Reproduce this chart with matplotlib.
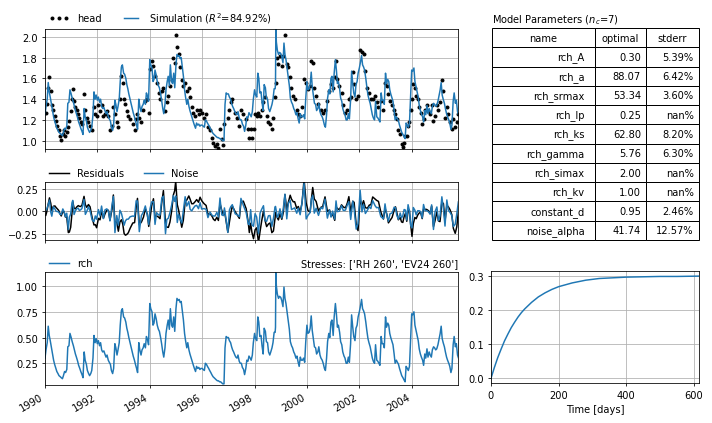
import numpy as np
import pandas as pd
import matplotlib
matplotlib.use("Agg")
import matplotlib.pyplot as plt
import matplotlib.dates as mdates

# ----------------------------
# Data
# ----------------------------
# recharge contribution (rch), sampled on the 1st and 15th of each month
rch_values = [
    0.30, 0.38, 0.45, 0.61, 0.52, 0.47, 0.40, 0.34, 0.28, 0.24, 0.20, 0.17,  # 1990
    0.15, 0.13, 0.12, 0.11, 0.10, 0.13, 0.17, 0.16, 0.19, 0.41, 0.42, 0.54,
    0.50, 0.46, 0.42, 0.38, 0.34, 0.31, 0.27, 0.23, 0.20, 0.17, 0.14, 0.11,  # 1991
    0.36, 0.28, 0.24, 0.18, 0.15, 0.13, 0.15, 0.18, 0.30, 0.52, 0.45, 0.49,
    0.44, 0.47, 0.42, 0.45, 0.38, 0.36, 0.37, 0.34, 0.31, 0.33, 0.28, 0.26,  # 1992
    0.24, 0.18, 0.15, 0.20, 0.44, 0.40, 0.33, 0.38, 0.45, 0.62, 0.76, 0.78,
    0.70, 0.69, 0.65, 0.59, 0.55, 0.50, 0.45, 0.41, 0.36, 0.32, 0.28, 0.24,  # 1993
    0.20, 0.16, 0.45, 0.38, 0.33, 0.38, 0.40, 0.44, 0.40, 0.51, 0.48, 0.43,
    0.83, 0.78, 0.75, 0.62, 0.64, 0.73, 0.68, 0.62, 0.58, 0.56, 0.50, 0.44,  # 1994
    0.36, 0.31, 0.40, 0.54, 0.62, 0.67, 0.58, 0.78, 0.62, 0.60, 0.70, 0.56,
    0.78, 0.88, 0.86, 0.87, 0.84, 0.85, 0.75, 0.67, 0.54, 0.47, 0.40, 0.45,  # 1995
    0.38, 0.34, 0.30, 0.27, 0.23, 0.20, 0.17, 0.22, 0.20, 0.21, 0.19, 0.20,
    0.20, 0.19, 0.18, 0.25, 0.24, 0.22, 0.20, 0.18, 0.16, 0.14, 0.12, 0.11,  # 1996
    0.10, 0.09, 0.08, 0.08, 0.07, 0.07, 0.06, 0.05, 0.05, 0.40, 0.51, 0.50,
    0.50, 0.47, 0.45, 0.41, 0.38, 0.36, 0.33, 0.31, 0.30, 0.33, 0.27, 0.25,  # 1997
    0.25, 0.21, 0.19, 0.14, 0.20, 0.28, 0.27, 0.32, 0.30, 0.28, 0.33, 0.45,
    0.54, 0.49, 0.47, 0.70, 0.65, 0.51, 0.52, 0.42, 0.34, 0.59, 0.56, 0.46,  # 1998
    0.45, 0.36, 0.33, 0.36, 0.40, 0.45, 0.55, 0.55, 1.00, 0.92, 0.88, 0.90,
    0.89, 0.86, 0.80, 0.99, 0.88, 0.83, 0.74, 0.67, 0.58, 0.46, 0.42, 0.40,  # 1999
    0.36, 0.34, 0.30, 0.32, 0.26, 0.22, 0.31, 0.28, 0.28, 0.30, 0.26, 0.45,
    0.62, 0.54, 0.55, 0.59, 0.71, 0.57, 0.48, 0.41, 0.40, 0.34, 0.36, 0.41,  # 2000
    0.33, 0.30, 0.28, 0.25, 0.20, 0.18, 0.30, 0.46, 0.54, 0.50, 0.65, 0.67,
    0.52, 0.70, 0.83, 0.73, 0.60, 0.62, 0.55, 0.46, 0.43, 0.36, 0.32, 0.30,  # 2001
    0.25, 0.25, 0.31, 0.26, 0.44, 0.72, 0.60, 0.51, 0.47, 0.59, 0.62, 0.70,
    0.75, 0.80, 0.87, 0.78, 0.76, 0.73, 0.65, 0.57, 0.49, 0.45, 0.41, 0.36,  # 2002
    0.30, 0.27, 0.25, 0.43, 0.28, 0.27, 0.25, 0.23, 0.51, 0.44, 0.44, 0.40,
    0.70, 0.60, 0.64, 0.62, 0.54, 0.50, 0.46, 0.43, 0.34, 0.25, 0.28, 0.26,  # 2003
    0.24, 0.20, 0.16, 0.13, 0.11, 0.09, 0.07, 0.22, 0.20, 0.18, 0.22, 0.45,
    0.73, 0.72, 0.75, 0.62, 0.57, 0.52, 0.47, 0.39, 0.34, 0.31, 0.28, 0.23,  # 2004
    0.34, 0.30, 0.39, 0.31, 0.36, 0.33, 0.31, 0.38, 0.41, 0.40, 0.38, 0.39,
    0.43, 0.48, 0.54, 0.61, 0.49, 0.45, 0.41, 0.36, 0.31, 0.28, 0.25, 0.22,  # 2005
    0.16, 0.20, 0.43, 0.51, 0.41, 0.44, 0.33, 0.30,
]
# a few extra rch samples for the sharp autumn 1998 peak
rch_extra_dates = ["1998-10-20", "1998-10-25"]
rch_extra_values = [0.60, 1.13]

constant_d = 0.95
noise_alpha = 41.74
r2 = 84.92
tmin, tmax = "1990-01-01", "2005-10-08"

# observed heads: decimal year and head
head_year = [
    1990.03, 1990.06, 1990.10, 1990.17, 1990.22, 1990.26, 1990.32, 1990.38, 1990.42, 1990.47,
    1990.52, 1990.57, 1990.62, 1990.68, 1990.73, 1990.78, 1990.83, 1990.89, 1990.93, 1990.98,
    1991.03, 1991.06, 1991.11, 1991.16, 1991.21, 1991.27, 1991.31, 1991.36, 1991.41, 1991.49,
    1991.54, 1991.59, 1991.66, 1991.72, 1991.80, 1991.87, 1991.92, 1991.97, 1992.04, 1992.10,
    1992.16, 1992.23, 1992.29, 1992.36, 1992.42, 1992.48, 1992.56, 1992.61, 1992.67, 1992.74,
    1992.80, 1992.86, 1992.92, 1992.97, 1993.02, 1993.07, 1993.12, 1993.18, 1993.25, 1993.35,
    1993.42, 1993.48, 1993.53, 1993.60, 1993.68, 1993.76, 1993.83, 1993.91, 1993.96, 1994.01,
    1994.07, 1994.14, 1994.20, 1994.26, 1994.34, 1994.39, 1994.46, 1994.52, 1994.60, 1994.65,
    1994.71, 1994.77, 1994.84, 1994.90, 1994.95, 1994.99, 1995.05, 1995.10, 1995.16, 1995.22,
    1995.28, 1995.35, 1995.41, 1995.49, 1995.54, 1995.60, 1995.66, 1995.73, 1995.79, 1995.86,
    1995.92, 1995.98, 1996.07, 1996.15, 1996.22, 1996.30, 1996.38, 1996.43, 1996.49, 1996.56,
    1996.62, 1996.68, 1996.75, 1996.81, 1996.85, 1996.98, 1997.04, 1997.09, 1997.15, 1997.26,
    1997.34, 1997.42, 1997.48, 1997.57, 1997.68, 1997.76, 1997.80, 1997.85, 1997.90, 1997.96,
    1998.02, 1998.08, 1998.15, 1998.21, 1998.27, 1998.34, 1998.40, 1998.46, 1998.53, 1998.59,
    1998.66, 1998.72, 1998.78, 1998.80, 1998.87, 1998.91, 1998.97, 1999.04, 1999.10, 1999.16,
    1999.23, 1999.29, 1999.36, 1999.41, 1999.48, 1999.53, 1999.61, 1999.67, 1999.74, 1999.81,
    1999.89, 1999.97, 2000.04, 2000.12, 2000.17, 2000.22, 2000.28, 2000.35, 2000.44, 2000.53,
    2000.60, 2000.69, 2000.78, 2000.86, 2000.92, 2000.98, 2001.06, 2001.11, 2001.16, 2001.24,
    2001.32, 2001.39, 2001.47, 2001.54, 2001.60, 2001.67, 2001.75, 2001.80, 2001.88, 2001.95,
    2002.03, 2002.10, 2002.16, 2002.23, 2002.31, 2002.38, 2002.44, 2002.51, 2002.60, 2002.66,
    2002.73, 2002.82, 2002.92, 2002.98, 2003.05, 2003.11, 2003.17, 2003.25, 2003.33, 2003.38,
    2003.43, 2003.49, 2003.56, 2003.61, 2003.66, 2003.71, 2003.76, 2003.81, 2003.86, 2003.91,
    2003.96, 2004.01, 2004.06, 2004.12, 2004.17, 2004.23, 2004.29, 2004.34, 2004.40, 2004.45,
    2004.51, 2004.57, 2004.64, 2004.70, 2004.76, 2004.83, 2004.89, 2004.96, 2005.02, 2005.08,
    2005.15, 2005.21, 2005.27, 2005.34, 2005.40, 2005.46, 2005.53, 2005.59, 2005.66, 2005.72,
    2005.78,
]
head_values = [
    1.27, 1.35, 1.51, 1.61, 1.48, 1.34, 1.30, 1.24, 1.19, 1.14,
    1.10, 1.05, 1.01, 1.06, 1.10, 1.05, 1.08, 1.13, 1.19, 1.29,
    1.40, 1.50, 1.38, 1.32, 1.30, 1.26, 1.22, 1.18, 1.16, 1.45,
    1.30, 1.22, 1.18, 1.14, 1.10, 1.32, 1.26, 1.24, 1.34, 1.29,
    1.34, 1.24, 1.26, 1.29, 1.24, 1.10, 1.14, 1.32, 1.26, 1.18,
    1.13, 1.40, 1.62, 1.56, 1.40, 1.35, 1.29, 1.24, 1.21, 1.16,
    1.10, 1.21, 1.26, 1.22, 1.18, 1.30, 1.38, 1.40, 1.27, 1.69,
    1.77, 1.72, 1.62, 1.56, 1.46, 1.40, 1.48, 1.51, 1.29, 1.37,
    1.43, 1.53, 1.58, 1.80, 1.75, 2.02, 1.90, 1.83, 1.71, 1.58,
    1.53, 1.56, 1.48, 1.51, 1.42, 1.32, 1.27, 1.24, 1.30, 1.26,
    1.30, 1.27, 1.22, 1.26, 1.13, 1.10, 1.03, 0.98, 0.95, 0.97,
    0.93, 1.11, 1.02, 0.96, 1.16, 1.22, 1.30, 1.37, 1.40, 1.27,
    1.22, 1.14, 1.30, 1.26, 1.21, 1.11, 1.03, 1.11, 1.03, 1.11,
    1.26, 1.24, 1.27, 1.24, 1.30, 1.37, 1.42, 1.24, 1.18, 1.16,
    1.11, 1.22, 1.42, 1.56, 1.80, 1.74, 1.82, 1.72, 1.82, 2.02,
    1.74, 1.71, 1.61, 1.51, 1.43, 1.40, 1.30, 1.26, 1.24, 1.32,
    1.59, 1.56, 1.50, 1.53, 1.77, 1.75, 1.51, 1.43, 1.35, 1.30,
    1.27, 1.30, 1.38, 1.48, 1.55, 1.51, 1.61, 1.77, 1.59, 1.53,
    1.46, 1.34, 1.27, 1.30, 1.40, 1.42, 1.66, 1.55, 1.40, 1.43,
    1.87, 1.85, 1.83, 1.67, 1.51, 1.46, 1.40, 1.40, 1.43, 1.37,
    1.32, 1.38, 1.30, 1.56, 1.53, 1.45, 1.38, 1.34, 1.30, 1.26,
    1.21, 1.10, 1.06, 0.97, 0.94, 0.98, 1.05, 1.05, 1.14, 1.18,
    1.30, 1.40, 1.55, 1.51, 1.43, 1.40, 1.32, 1.27, 1.16, 1.21,
    1.30, 1.34, 1.29, 1.26, 1.34, 1.19, 1.24, 1.34, 1.30, 1.37,
    1.58, 1.48, 1.22, 1.32, 1.26, 1.18, 1.11, 1.21, 1.13, 1.18,
    1.26,
]

# step response of rch
step_days = [0, 10, 20, 30, 40, 50, 60, 70, 80, 90, 100, 120, 140, 160, 180,
             200, 240, 280, 320, 360, 400, 450, 500, 550, 615]
step_values = [0.000, 0.032, 0.061, 0.086, 0.110, 0.130, 0.149, 0.165, 0.180,
               0.193, 0.204, 0.223, 0.239, 0.251, 0.261, 0.269, 0.280, 0.288,
               0.293, 0.295, 0.297, 0.298, 0.299, 0.299, 0.300]

# parameter table
param_names = ["rch_A", "rch_a", "rch_srmax", "rch_lp", "rch_ks", "rch_gamma",
               "rch_simax", "rch_kv", "constant_d", "noise_alpha"]
param_optimal = [0.30, 88.07, 53.34, 0.25, 62.80, 5.76, 2.00, 1.00, 0.95, 41.74]
param_stderr = [5.39, 6.42, 3.60, np.nan, 8.20, 6.30, np.nan, np.nan, 2.46, 12.57]

# ----------------------------
# Series
# ----------------------------
rch_dates = pd.date_range(tmin, periods=len(rch_values), freq="SMS")
rch = pd.concat([
    pd.Series(rch_values, index=rch_dates),
    pd.Series(rch_extra_values, index=pd.to_datetime(rch_extra_dates)),
]).sort_index()
sim = rch + constant_d

t0 = pd.Timestamp(tmin)
head_dates = pd.DatetimeIndex([t0 + pd.Timedelta(days=(y - 1990.0) * 365.25)
                               for y in head_year])
head = pd.Series(head_values, index=head_dates)

# residuals at observation times, noise from the exponential noise model
sim_at_obs = np.interp(head_dates.asi8, sim.index.asi8, sim.values)
res = pd.Series(head.values - sim_at_obs, index=head_dates)
dt = np.diff(head_dates.asi8) / 8.64e13
noise = pd.Series(res.values[1:] - np.exp(-dt / noise_alpha) * res.values[:-1],
                  index=head_dates[1:])

# ----------------------------
# Figure
# ----------------------------
fig = plt.figure(figsize=(10, 5.955), dpi=71.2)
ax1 = fig.add_axes([0.0632, 0.6462, 0.5801, 0.2842])
ax2 = fig.add_axes([0.0632, 0.4316, 0.5801, 0.1361], sharex=ax1)
ax3 = fig.add_axes([0.0632, 0.0896, 0.5801, 0.2665], sharex=ax1)
axt = fig.add_axes([0.691, 0.4316, 0.2907, 0.5000])
ax4 = fig.add_axes([0.6896, 0.0932, 0.2921, 0.2653])

# heads and simulation
ax1.plot(head.index, head.values, ".", color="k", label="head")
ax1.plot(sim.index, sim.values, color="C0",
         label="Simulation ($R^2$={:.2f}%)".format(r2))
ax1.set_ylim(0.92, 2.08)
ax1.legend(loc=(0, 1), ncol=2, frameon=False, numpoints=3)
ax1.grid(True)

# residuals and noise
ax2.axhline(0.0, color="0.3", linestyle="--", linewidth=1.0, zorder=0)
ax2.plot(res.index, res.values, color="k", label="Residuals")
ax2.plot(noise.index, noise.values, color="C0", label="Noise")
ax2.set_ylim(-0.317, 0.324)
ax2.set_yticks([-0.25, 0.0, 0.25])
ax2.legend(loc=(0, 1), ncol=2, frameon=False)
ax2.grid(True)

# contribution
ax3.plot(rch.index, rch.values, color="C0", label="rch")
ax3.set_ylim(0.039, 1.136)
ax3.set_yticks([0.25, 0.5, 0.75, 1.0])
ax3.legend(loc=(0, 1), frameon=False)
ax3.set_title("Stresses: ['RH 260', 'EV24 260']", loc="right", fontsize=10)
ax3.grid(True)

ax1.set_xlim(pd.Timestamp(tmin), pd.Timestamp(tmax))
ax3.xaxis.set_major_locator(mdates.YearLocator(2))
ax3.xaxis.set_major_formatter(mdates.DateFormatter("%Y"))
ax1.tick_params(labelbottom=False)
ax2.tick_params(labelbottom=False)
for lab in ax3.get_xticklabels():
    lab.set_rotation(30)
    lab.set_ha("right")

# step response
ax4.plot(step_days, step_values, color="C0")
ax4.set_xlim(0, 615)
ax4.set_xticks([0, 200, 400, 600])
ax4.set_xlabel("Time [days]")
ax4.grid(True)

# parameter table
cells = [[n, "{:.2f}".format(o), "{:.2f}%".format(s)]
         for n, o, s in zip(param_names, param_optimal, param_stderr)]
tbl = axt.table(cellText=cells, colLabels=["name", "optimal", "stderr"],
                colWidths=[103 / 207, 51 / 207, 53 / 207],
                cellLoc="right", colLoc="center", bbox=[0, 0, 1, 1])
tbl.auto_set_font_size(False)
tbl.set_fontsize(10)
axt.axis("off")
axt.set_title("Model Parameters ($n_c$=7)", loc="left", fontsize=10)

fig.savefig("out.png", dpi=71.2)
